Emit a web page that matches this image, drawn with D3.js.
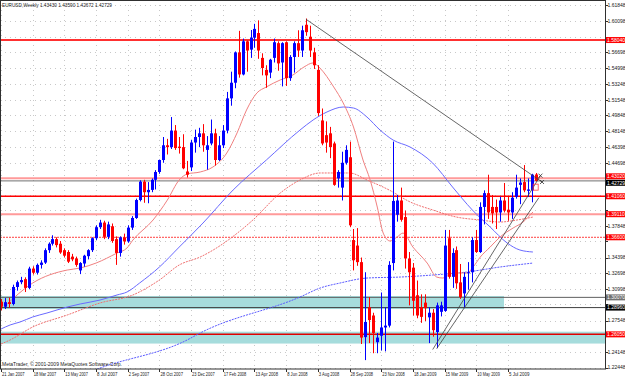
<!DOCTYPE html>
<html lang="en">
<head>
<meta charset="UTF-8">
<title>EURUSD Weekly</title>
<script src="https://cdnjs.cloudflare.com/ajax/libs/d3/7.8.5/d3.min.js"></script>
<style>
  body { margin: 0; background: #fff; }
  svg text { font-family: "Liberation Sans", Arial, sans-serif; }
</style>
</head>
<body>
<script>
// weekly bars, first bar = week of 21 Jan 2007
var opens = [1.2960,1.2905,1.2955,1.2935,1.3120,1.3172,1.3205,1.3110,1.3320,1.3275,
  1.3360,1.3385,1.3520,1.3590,1.3640,1.3590,1.3520,1.3500,1.3450,1.3430,
  1.3300,1.3375,1.3455,1.3520,1.3650,1.3770,1.3820,1.3665,1.3780,1.3640,
  1.3490,1.3660,1.3615,1.3765,1.3870,1.4065,1.4265,1.4150,1.4175,1.4285,
  1.4370,1.4500,1.4660,1.4640,1.4820,1.4645,1.4640,1.4375,1.4420,1.4690,
  1.4750,1.4790,1.4610,1.4680,1.4790,1.4500,1.4660,1.4820,1.5170,1.5340,
  1.5670,1.5430,1.5790,1.5700,1.5830,1.5880,1.5610,1.5480,1.5450,1.5610,
  1.5770,1.5560,1.5780,1.5390,1.5620,1.5770,1.5690,1.5970,1.5840,1.5670,
  1.5480,1.4930,1.4770,1.4790,1.4680,1.4300,1.4200,1.4470,1.4530,1.3630,
  1.3570,1.3390,1.2575,1.2900,1.2810,1.2520,1.2590,1.2680,1.2700,1.3380,
  1.3905,1.4060,1.3880,1.3430,1.3330,1.3030,1.2900,1.2950,1.2790,1.2840,
  1.2630,1.2850,1.2860,1.3650,1.3230,1.3520,1.3170,1.3050,1.3270,1.3280,
  1.3630,1.3500,1.3990,1.4140,1.3990,1.3990,1.3930,1.4060,1.3960,1.3930,
  1.4100,1.4230,1.4260,1.4165,1.4170,1.4343];
var highs = [1.2990,1.3000,1.3005,1.3145,1.3190,1.3230,1.3225,1.3340,1.3345,1.3375,
  1.3410,1.3540,1.3605,1.3682,1.3660,1.3620,1.3540,1.3520,1.3480,1.3450,
  1.3390,1.3470,1.3530,1.3660,1.3790,1.3850,1.3840,1.3830,1.3810,1.3670,
  1.3670,1.3700,1.3790,1.3890,1.4080,1.4280,1.4285,1.4260,1.4300,1.4390,
  1.4505,1.4750,1.4730,1.4967,1.4880,1.4750,1.4780,1.4490,1.4720,1.4830,
  1.4850,1.4890,1.4760,1.4940,1.4840,1.4760,1.4880,1.5240,1.5460,1.5680,
  1.5904,1.5820,1.5800,1.5913,1.5980,1.6018,1.5660,1.5530,1.5600,1.5820,
  1.5790,1.5780,1.5790,1.5640,1.5790,1.5910,1.5960,1.6038,1.5960,1.5720,
  1.5530,1.5060,1.4920,1.4860,1.4700,1.4390,1.4590,1.4660,1.4700,1.3750,
  1.3760,1.3440,1.3280,1.3010,1.2840,1.2620,1.3060,1.2900,1.3400,1.4700,
  1.4120,1.4200,1.3950,1.3500,1.3380,1.3190,1.3040,1.3040,1.2900,1.2880,
  1.2950,1.2960,1.3740,1.3740,1.3540,1.3560,1.3370,1.3280,1.3390,1.3660,
  1.3740,1.4040,1.4170,1.4340,1.4120,1.4070,1.4100,1.4250,1.4100,1.4150,
  1.4340,1.4300,1.4445,1.4300,1.4350,1.4359];
var lows = [1.2866,1.2880,1.2895,1.2920,1.3080,1.3150,1.3065,1.3095,1.3255,1.3255,
  1.3320,1.3370,1.3490,1.3570,1.3550,1.3480,1.3440,1.3380,1.3400,1.3340,
  1.3260,1.3340,1.3420,1.3500,1.3630,1.3750,1.3640,1.3640,1.3600,1.3360,
  1.3450,1.3580,1.3600,1.3740,1.3860,1.4050,1.4035,1.4030,1.4150,1.4180,
  1.4350,1.4470,1.4560,1.4620,1.4610,1.4570,1.4400,1.4310,1.4380,1.4580,
  1.4640,1.4590,1.4395,1.4660,1.4440,1.4490,1.4630,1.4790,1.5090,1.5280,
  1.5395,1.5420,1.5460,1.5610,1.5720,1.5600,1.5420,1.5285,1.5390,1.5560,
  1.5470,1.5300,1.5305,1.5360,1.5450,1.5620,1.5620,1.5850,1.5620,1.5490,
  1.4980,1.4660,1.4580,1.4520,1.4220,1.4200,1.4060,1.4450,1.3770,1.3300,
  1.3350,1.2500,1.2325,1.2510,1.2400,1.2400,1.2430,1.2420,1.2680,1.3300,
  1.3830,1.3830,1.3320,1.2920,1.2810,1.2780,1.2730,1.2750,1.2510,1.2580,
  1.2455,1.2800,1.2850,1.3210,1.3110,1.3100,1.2990,1.2890,1.3090,1.3170,
  1.3490,1.3490,1.3800,1.3860,1.3810,1.3750,1.3830,1.3930,1.3840,1.3860,
  1.4080,1.4020,1.4150,1.4100,1.4040,1.4267];
var closes = [1.2905,1.2955,1.2935,1.3120,1.3172,1.3195,1.3110,1.3320,1.3275,1.3360,
  1.3385,1.3520,1.3590,1.3640,1.3575,1.3495,1.3460,1.3395,1.3420,1.3360,
  1.3380,1.3460,1.3520,1.3650,1.3770,1.3820,1.3665,1.3800,1.3620,1.3490,
  1.3660,1.3615,1.3765,1.3870,1.4065,1.4265,1.4150,1.4175,1.4285,1.4370,
  1.4500,1.4660,1.4640,1.4820,1.4630,1.4630,1.4410,1.4340,1.4690,1.4750,
  1.4790,1.4660,1.4660,1.4790,1.4500,1.4660,1.4820,1.5170,1.5340,1.5670,
  1.5430,1.5790,1.5690,1.5830,1.5925,1.5690,1.5500,1.5420,1.5590,1.5780,
  1.5550,1.5770,1.5390,1.5620,1.5770,1.5690,1.5910,1.5890,1.5690,1.5530,
  1.5010,1.4680,1.4690,1.4640,1.4230,1.4370,1.4470,1.4610,1.3790,1.3410,
  1.3390,1.2570,1.2740,1.2760,1.2620,1.2570,1.2680,1.2700,1.3360,1.4055,
  1.4060,1.3850,1.3430,1.3280,1.2970,1.2810,1.2795,1.2890,1.2840,1.2650,
  1.2920,1.2920,1.3570,1.3230,1.3490,1.3160,1.3010,1.3230,1.3280,1.3630,
  1.3500,1.3990,1.4140,1.3930,1.3920,1.3930,1.4060,1.3950,1.3930,1.4090,
  1.4200,1.4255,1.4170,1.4180,1.4340,1.4273];

// moving averages: [bar, price]
var maFast = [[1,1.2913],[8,1.3163],[16.7,1.3304],[20,1.3326],[24,1.3380],[29.3,1.3489],
  [31.8,1.3543],[33.3,1.3630],[38.4,1.3848],[42,1.4065],[45,1.4283],[47,1.4348],
  [50.3,1.4370],[53.5,1.4424],[57,1.4576],[59.6,1.4794],[62,1.5044],[64.6,1.5228],
  [67,1.5294],[70.5,1.5370],[73.7,1.5424],[76.5,1.5511],[78.8,1.5555],[80.5,1.5500],
  [84,1.5294],[86.4,1.5120],[89,1.4859],[91.4,1.4500],[93.2,1.4283],[95,1.3989],
  [96.5,1.3706],[98.2,1.3620],[100,1.3663],[101.5,1.3706],[104,1.3554],[107.6,1.3380],
  [110,1.3228],[111.6,1.3217],[114.1,1.3272],[117.7,1.3272],[119.2,1.3337],[121,1.3445],
  [123.5,1.3554],[126,1.3663],[129.3,1.3761],[131.8,1.3826],[134.3,1.3935]];
var maMid = [[0,1.2663],[2.3,1.2707],[4.8,1.2739],[8,1.2794],[11.6,1.2837],[16.7,1.2902],
  [20,1.2935],[25,1.2978],[29.3,1.3033],[31.8,1.3065],[35,1.3163],[40,1.3337],
  [45,1.3554],[51,1.3815],[58.6,1.4174],[67,1.4500],[75.5,1.4826],[78.8,1.4935],
  [82.3,1.5022],[86.4,1.5076],[89,1.5065],[92.4,1.4967],[95.7,1.4826],[99,1.4717],
  [103.3,1.4641],[109,1.4467],[114,1.4207],[119,1.3957],[123.5,1.3772],[127.8,1.3598],
  [131,1.3522],[134.3,1.3500]];
var maSlow = [[0,1.2500],[2.3,1.2544],[8,1.2685],[16.7,1.2815],[25,1.2946],[33.3,1.3033],
  [40,1.3196],[45,1.3359],[50.3,1.3446],[63.6,1.3848],[70.5,1.4141],[75.5,1.4283],
  [80.6,1.4359],[88,1.4359],[92.4,1.4283],[98,1.4174],[103.3,1.4044],[109,1.3957],
  [115,1.3880],[121,1.3848],[126,1.3826],[130.3,1.3848],[134.3,1.3880]];
var maLong = [[23.5,1.2215],[25,1.2239],[47,1.2544],[50.3,1.2620],[75.5,1.3011],
  [80.6,1.3109],[85.6,1.3163],[92.4,1.3217],[100.8,1.3228],[109,1.3250],[117.7,1.3283],
  [126,1.3337],[134.3,1.3380]];

// drawn objects
var trendLines = [[[77,1.6030],[136.6,1.4261]], [[109,1.2440],[136.2,1.4330]], [[110,1.2450],[135.8,1.4090]]];
var trendEnds = [[136.6,1.4261],[136.2,1.4330]];
var markBox = {bar: 135, price: 1.4205};
var levels = [
  {p: 1.5804, c: "#ff3030", w: 2, dash: null, box: "#ff0000"},
  {p: 1.4302, c: "#ff9a9a", w: 2, dash: null, box: "#ff0000"},
  {p: 1.4106, c: "#ff0000", w: 1.5, dash: null, box: "#ff0000"},
  {p: 1.3911, c: "#ff9a9a", w: 2, dash: null, box: "#ff0000"},
  {p: 1.3660, c: "#ff4040", w: 1, dash: "2,1", box: "#ff0000"},
  {p: 1.3007, c: "#606060", w: 1, dash: null, box: "#707070"},
  {p: 1.2896, c: "#404040", w: 1, dash: null, box: "#000000"},
  {p: 1.2605, c: "#e00000", w: 1.5, dash: null, box: "#ff0000"}
];
var bands = [{top: 1.3022, bottom: 1.2880, from: 0, to: 127}, {top: 1.2634, bottom: 1.2505, from: 0, to: 153}];
var lastPrice = 1.42729;

var priceTicks = ["1.61848","1.60098","1.58398","1.56698","1.54998","1.53248","1.51548","1.49848",
  "1.48148","1.46398","1.44698","1.42998","1.41248","1.39598","1.37848","1.36148","1.34398",
  "1.32698","1.30998","1.29298","1.27548","1.25848","1.24148","1.22448"];
var dateTicks = ["21 Jan 2007","18 Mar 2007","13 May 2007","8 Jul 2007","2 Sep 2007","28 Oct 2007",
  "23 Dec 2007","17 Feb 2008","13 Apr 2008","8 Jun 2008","3 Aug 2008","28 Sep 2008","23 Nov 2008",
  "18 Jan 2009","15 Mar 2009","10 May 2009","5 Jul 2009"];
var dateTickBars = [0,8,16,24,32,40,48,56,64,72,80,88,96,104,112,120,128];

var title = "EURUSD,Weekly  1.43430 1.43590 1.42672 1.42729";
var copyright = "MetaTrader, \u00a9 2001-2009 MetaQuotes Software Corp.";

var W = 625, H = 378, plotR = 605, plotB = 369, boxH = 6;

var x = d3.scaleLinear().domain([0, 152.5]).range([1, plotR]);
var y = d3.scaleLinear().domain([1.22448, 1.61848]).range([367.5, 5]);

var svg = d3.select("body").append("svg").attr("width", W).attr("height", H);
svg.append("rect").attr("width", W).attr("height", H).attr("fill", "#ffffff");

svg.append("defs").append("clipPath").attr("id", "clip")
  .append("rect").attr("width", plotR).attr("height", plotB);

var plot = svg.append("g").attr("clip-path", "url(#clip)");

// grid
plot.selectAll(".gy").data(priceTicks).join("line")
  .attr("x1", 0).attr("x2", plotR)
  .attr("y1", d => Math.round(y(+d)) + 0.5).attr("y2", d => Math.round(y(+d)) + 0.5)
  .attr("stroke", "#c8c8c8").attr("stroke-dasharray", "1,4");
plot.selectAll(".gx").data(dateTickBars).join("line")
  .attr("x1", d => Math.round(x(d)) + 0.5).attr("x2", d => Math.round(x(d)) + 0.5)
  .attr("y1", 0).attr("y2", plotB)
  .attr("stroke", "#c8c8c8").attr("stroke-dasharray", "1,4");

// bands
plot.selectAll(".band").data(bands).join("rect")
  .attr("x", d => x(d.from) - 2).attr("width", d => x(d.to) - x(d.from) + 2)
  .attr("y", d => y(d.top)).attr("height", d => y(d.bottom) - y(d.top))
  .attr("fill", "#a6dcdc");

// horizontal levels
plot.selectAll(".lvl").data(levels).join("line")
  .attr("x1", 0).attr("x2", plotR)
  .attr("y1", d => y(d.p)).attr("y2", d => y(d.p))
  .attr("stroke", d => d.c).attr("stroke-width", d => d.w)
  .attr("stroke-dasharray", d => d.dash);
plot.append("line").attr("x1", 0).attr("x2", plotR)
  .attr("y1", y(lastPrice)).attr("y2", y(lastPrice))
  .attr("stroke", "#707070").attr("stroke-width", 1);

// moving averages
var ma = d3.line().x(d => x(d[0])).y(d => y(d[1])).curve(d3.curveMonotoneX);
plot.append("path").attr("d", ma(maLong)).attr("fill", "none")
  .attr("stroke", "#5a5aff").attr("stroke-width", 1).attr("stroke-dasharray", "2,1");
plot.append("path").attr("d", ma(maSlow)).attr("fill", "none")
  .attr("stroke", "#f07070").attr("stroke-width", 1).attr("stroke-dasharray", "2,1");
plot.append("path").attr("d", ma(maMid)).attr("fill", "none")
  .attr("stroke", "#6a6aff").attr("stroke-width", 1);
plot.append("path").attr("d", ma(maFast)).attr("fill", "none")
  .attr("stroke", "#f08080").attr("stroke-width", 1);

// candles
var bars = closes.map((c, i) => ({i: i, o: opens[i], h: highs[i], l: lows[i], c: c}));
var col = d => d.c >= d.o ? "#0000ff" : "#ff0000";
plot.selectAll(".wick").data(bars).join("line")
  .attr("x1", d => Math.round(x(d.i)) + 0.5).attr("x2", d => Math.round(x(d.i)) + 0.5)
  .attr("y1", d => y(d.h)).attr("y2", d => y(d.l))
  .attr("stroke", col).attr("stroke-width", 1);
plot.selectAll(".body").data(bars).join("rect")
  .attr("x", d => Math.round(x(d.i)) - 1).attr("width", 3)
  .attr("y", d => y(Math.max(d.o, d.c)))
  .attr("height", d => Math.max(1, y(Math.min(d.o, d.c)) - y(Math.max(d.o, d.c))))
  .attr("fill", col);

// trend lines with their end crosses
plot.selectAll(".trend").data(trendLines).join("line")
  .attr("x1", d => x(d[0][0])).attr("y1", d => y(d[0][1]))
  .attr("x2", d => x(d[1][0])).attr("y2", d => y(d[1][1]))
  .attr("stroke", "#404040").attr("stroke-width", 0.8);
plot.selectAll(".tend").data(trendEnds).join("path")
  .attr("d", d => {
    var cx = x(d[0]), cy = y(d[1]);
    return "M" + (cx - 2) + "," + (cy - 2) + "L" + (cx + 2) + "," + (cy + 2) +
      "M" + (cx - 2) + "," + (cy + 2) + "L" + (cx + 2) + "," + (cy - 2);
  })
  .attr("stroke", "#303030").attr("stroke-width", 0.8).attr("fill", "none");
plot.append("rect")
  .attr("x", x(markBox.bar) - 2.5).attr("y", y(markBox.price) - 3)
  .attr("width", 5).attr("height", 6)
  .attr("fill", "none").attr("stroke", "#ff4040").attr("stroke-width", 0.8);

// frame
svg.append("rect").attr("x", 0.5).attr("y", 0.5).attr("width", plotR).attr("height", plotB - 0.5)
  .attr("fill", "none").attr("stroke", "#303030").attr("stroke-width", 1);

// boxed level labels: place them, pushing overlapping ones apart
var boxed = levels.map(d => ({p: d.p, box: d.box})).concat([{p: lastPrice, box: "#000000"}]);
boxed.forEach(d => d.cy = y(d.p));
boxed.sort((a, b) => a.cy - b.cy);
for (var k = 1; k < boxed.length; k++) {
  if (boxed[k].cy - boxed[k - 1].cy < boxH + 0.5) {
    var mid = (boxed[k].cy + boxed[k - 1].cy) / 2;
    boxed[k - 1].cy = mid - (boxH + 0.5) / 2;
    boxed[k].cy = mid + (boxH + 0.5) / 2;
  }
}

// right price axis (tick labels hidden where a level box sits on them)
svg.selectAll(".ptick").data(priceTicks).join("line")
  .attr("x1", plotR + 0.5).attr("x2", plotR + 3)
  .attr("y1", d => Math.round(y(+d)) + 0.5).attr("y2", d => Math.round(y(+d)) + 0.5)
  .attr("stroke", "#303030");
var freeTicks = priceTicks.filter(t => boxed.every(b => Math.abs(y(+t) - b.cy) > boxH + 0.5));
svg.selectAll(".plab").data(freeTicks).join("text")
  .attr("x", plotR + 2.5).attr("y", d => y(+d) + 1.8)
  .attr("font-size", 5).attr("fill", "#202020").text(d => d);

var bl = svg.selectAll(".blab").data(boxed).join("g")
  .attr("transform", d => "translate(" + (plotR + 1) + "," + (d.cy - boxH / 2) + ")");
bl.append("rect").attr("width", 19).attr("height", boxH).attr("fill", d => d.box);
bl.append("text").attr("x", 1).attr("y", 4.7).attr("font-size", 5)
  .attr("fill", "#ffffff").text(d => d.p.toFixed(5));

// bottom date axis
svg.selectAll(".dtick").data(dateTickBars).join("line")
  .attr("x1", d => Math.round(x(d)) + 0.5).attr("x2", d => Math.round(x(d)) + 0.5)
  .attr("y1", plotB).attr("y2", plotB + 3).attr("stroke", "#303030");
svg.selectAll(".dlab").data(dateTicks).join("text")
  .attr("x", (d, i) => x(dateTickBars[i]) + 1).attr("y", 376)
  .attr("font-size", 5.5).attr("textLength", d => d.length * 2.05)
  .attr("lengthAdjust", "spacingAndGlyphs").attr("fill", "#202020").text(d => d);

// title and copyright
svg.append("text").attr("x", 2).attr("y", 7).attr("font-size", 5.5)
  .attr("textLength", 110).attr("lengthAdjust", "spacingAndGlyphs")
  .attr("fill", "#202020").text(title);
svg.append("text").attr("x", 2).attr("y", 366).attr("font-size", 5.5)
  .attr("textLength", 120).attr("lengthAdjust", "spacingAndGlyphs")
  .attr("fill", "#202020").text(copyright);
</script>
</body>
</html>
